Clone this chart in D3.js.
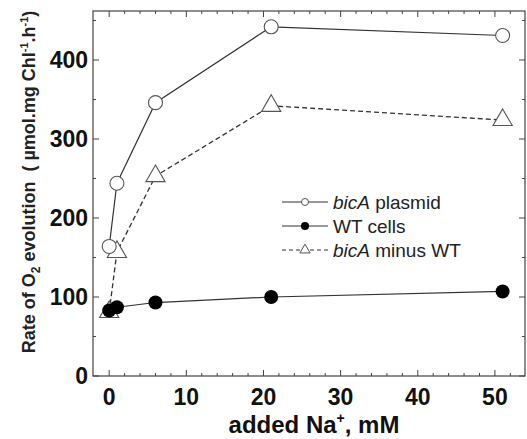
<!DOCTYPE html>
<html>
<head>
<meta charset="utf-8">
<script src="https://cdn.jsdelivr.net/npm/d3@7"></script>
<style>
  body { margin: 0; background: #fff; }
  svg { font-family: "Liberation Sans", Arial, sans-serif; }
</style>
</head>
<body>
<div id="chart"></div>
<script>
// added Na+ (mM)
const naConc = [0, 1, 6, 21, 51];
const bicaPlasmid = [164, 244, 346, 442, 431];
const wtCells = [83, 87, 93, 100, 107];
const bicaMinusWt = [81, 157, 253, 342, 324];

const xTicks = [0, 10, 20, 30, 40, 50];
const yTicks = [0, 100, 200, 300, 400];

const W = 527, H = 439;
const margin = { top: 11, right: 2, bottom: 63, left: 93 };
const width = W - margin.left - margin.right;
const height = H - margin.top - margin.bottom;

const svg = d3.select("#chart").append("svg")
    .attr("width", W)
    .attr("height", H);

const g = svg.append("g")
    .attr("transform", `translate(${margin.left},${margin.top})`);

const x = d3.scaleLinear().domain([-2.1, 53.9]).range([0, width]);
const y = d3.scaleLinear().domain([0, 462]).range([height, 0]);

const axisColor = "#444";

// frame
g.append("rect")
    .attr("width", width).attr("height", height)
    .attr("fill", "none").attr("stroke", axisColor).attr("stroke-width", 1.2);

// ticks (inward, on all four sides)
const xMinor = d3.range(0, 54, 2).filter(v => v % 10 !== 0);
const yMinor = d3.range(50, 462, 100);
const tickG = g.append("g").attr("stroke", axisColor).attr("stroke-width", 1);
xTicks.forEach(v => {
    tickG.append("line").attr("x1", x(v)).attr("x2", x(v)).attr("y1", height).attr("y2", height - 6);
    tickG.append("line").attr("x1", x(v)).attr("x2", x(v)).attr("y1", 0).attr("y2", 6);
});
xMinor.forEach(v => {
    tickG.append("line").attr("x1", x(v)).attr("x2", x(v)).attr("y1", height).attr("y2", height - 3);
    tickG.append("line").attr("x1", x(v)).attr("x2", x(v)).attr("y1", 0).attr("y2", 3);
});
yTicks.forEach(v => {
    tickG.append("line").attr("x1", 0).attr("x2", 6).attr("y1", y(v)).attr("y2", y(v));
    tickG.append("line").attr("x1", width).attr("x2", width - 6).attr("y1", y(v)).attr("y2", y(v));
});
yMinor.forEach(v => {
    tickG.append("line").attr("x1", 0).attr("x2", 3).attr("y1", y(v)).attr("y2", y(v));
    tickG.append("line").attr("x1", width).attr("x2", width - 3).attr("y1", y(v)).attr("y2", y(v));
});

// tick labels
g.selectAll(".xlab").data(xTicks).join("text")
    .attr("x", d => x(d)).attr("y", height + 29)
    .attr("text-anchor", "middle")
    .attr("font-size", 23).attr("font-weight", "bold").attr("fill", "#111")
    .text(d => d);

g.selectAll(".ylab").data(yTicks).join("text")
    .attr("x", -5).attr("y", d => y(d) + 8)
    .attr("text-anchor", "end")
    .attr("font-size", 23).attr("font-weight", "bold").attr("fill", "#111")
    .text(d => d);

// axis titles
const xt = svg.append("text")
    .attr("x", 314).attr("y", 433)
    .attr("text-anchor", "middle")
    .attr("font-size", 24).attr("font-weight", "bold").attr("fill", "#111");
xt.append("tspan").text("added Na");
xt.append("tspan").attr("dy", -10).attr("font-size", 14).text("+");
xt.append("tspan").attr("dy", 10).text(", mM");

const yt = svg.append("text")
    .attr("transform", "translate(35,182) rotate(-90)")
    .attr("text-anchor", "middle")
    .style("white-space", "pre")
    .attr("font-size", 18).attr("font-weight", "bold").attr("fill", "#222");
yt.append("tspan").text("Rate of O");
yt.append("tspan").attr("dy", 5).attr("font-size", 12).text("2");
yt.append("tspan").attr("dy", -5).text(" evolution  ( µmol.mg Chl");
yt.append("tspan").attr("dy", -7).attr("font-size", 11).text("-1");
yt.append("tspan").attr("dy", 7).text(".h");
yt.append("tspan").attr("dy", -7).attr("font-size", 11).text("-1");
yt.append("tspan").attr("dy", 7).text(")");

// series
const line = vals => d3.line().x((d, i) => x(naConc[i])).y(d => y(d))(vals);
const lineColor = "#333";

g.append("path").attr("d", line(bicaMinusWt))
    .attr("fill", "none").attr("stroke", lineColor).attr("stroke-width", 1.3)
    .attr("stroke-dasharray", "5,3");
g.append("path").attr("d", line(bicaPlasmid))
    .attr("fill", "none").attr("stroke", lineColor).attr("stroke-width", 1.2);
g.append("path").attr("d", line(wtCells))
    .attr("fill", "none").attr("stroke", lineColor).attr("stroke-width", 1.2);

const tri = d3.symbol().type(d3.symbolTriangle).size(160);
g.selectAll(".tri").data(bicaMinusWt).join("path")
    .attr("d", tri)
    .attr("transform", (d, i) => `translate(${x(naConc[i])},${y(d)})`)
    .attr("fill", "#fff").attr("stroke", "#555").attr("stroke-width", 1.1);

g.selectAll(".oc").data(bicaPlasmid).join("circle")
    .attr("cx", (d, i) => x(naConc[i])).attr("cy", d => y(d)).attr("r", 7)
    .attr("fill", "#fff").attr("stroke", "#555").attr("stroke-width", 1.1);

g.selectAll(".fc").data(wtCells).join("circle")
    .attr("cx", (d, i) => x(naConc[i])).attr("cy", d => y(d)).attr("r", 7)
    .attr("fill", "#000");

// legend
const legend = [
    { name: "bicA", rest: " plasmid", italic: true, type: "open", dash: null },
    { name: "WT cells", rest: "", italic: false, type: "filled", dash: null },
    { name: "bicA", rest: " minus WT", italic: true, type: "tri", dash: "4,3" }
];
const lg = svg.append("g");
legend.forEach((d, i) => {
    const ly = 202 + i * 24;
    lg.append("line").attr("x1", 282).attr("x2", 328).attr("y1", ly).attr("y2", ly)
        .attr("stroke", lineColor).attr("stroke-width", 1.1)
        .attr("stroke-dasharray", d.dash);
    if (d.type === "open") {
        lg.append("circle").attr("cx", 305).attr("cy", ly).attr("r", 3.5)
            .attr("fill", "#fff").attr("stroke", "#555");
    } else if (d.type === "filled") {
        lg.append("circle").attr("cx", 305).attr("cy", ly).attr("r", 4).attr("fill", "#000");
    } else {
        lg.append("path").attr("d", d3.symbol().type(d3.symbolTriangle).size(45))
            .attr("transform", `translate(305,${ly})`)
            .attr("fill", "#fff").attr("stroke", "#555");
    }
    const t = lg.append("text").attr("x", 333).attr("y", ly + 6.5)
        .attr("font-size", 19).attr("fill", "#222");
    t.append("tspan").attr("font-style", d.italic ? "italic" : null).text(d.name);
    if (d.rest) t.append("tspan").text(d.rest);
});
</script>
</body>
</html>
